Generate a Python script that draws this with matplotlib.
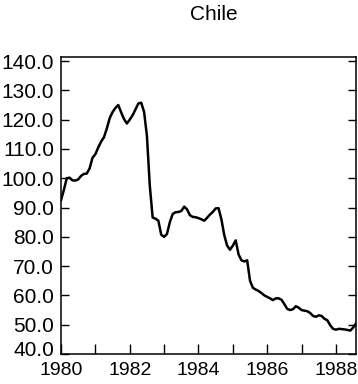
import numpy as np
import matplotlib
matplotlib.use("Agg")
import matplotlib.pyplot as plt
import matplotlib.transforms as mtransforms
from matplotlib.ticker import MultipleLocator, FuncFormatter

start_year = 1980
values = [
    92.5, 96.0, 100.0, 100.2, 99.3, 99.2, 99.6, 100.8, 101.5, 101.6, 103.4, 107.0,
    108.2, 110.5, 112.5, 114.0, 117.0, 120.5, 122.6, 124.0, 125.0, 122.5, 120.2, 118.7,
    120.0, 121.5, 123.5, 125.5, 125.8, 122.7, 114.5, 97.5, 86.6, 86.2, 85.5, 80.7,
    80.0, 81.0, 85.0, 87.8, 88.4, 88.5, 88.8, 90.3, 89.4, 87.4, 86.8, 86.7,
    86.4, 86.0, 85.5, 86.5, 87.6, 88.5, 89.7, 89.8, 86.0, 80.6, 77.0, 75.6,
    77.0, 78.8, 74.0, 72.0, 71.6, 72.0, 65.0, 62.6, 62.0, 61.5, 60.8, 60.0,
    59.5, 59.0, 58.4, 59.0, 59.0, 58.5, 57.0, 55.4, 55.0, 55.3, 56.3, 55.8,
    55.0, 54.8, 54.6, 54.0, 53.0, 52.7, 53.2, 53.0, 52.0, 51.5, 49.8, 48.6,
    48.3, 48.6, 48.5, 48.4, 48.2, 48.0, 49.0, 50.5,
]
x_tick_labels = [1980, 1982, 1984, 1986, 1988]
y_ticks = [40, 50, 60, 70, 80, 90, 100, 110, 120, 130, 140]
title = "Chile"

plt.rcParams['font.family'] = ['Liberation Sans', 'DejaVu Sans']

x = start_year + np.arange(len(values)) / 12.0

fig = plt.figure(figsize=(3.58, 3.84), dpi=100)
ax = fig.add_axes([61/358, 30/384, 295/358, 297/384])
ax.plot(x, values, color='black', lw=1.8, solid_joinstyle='round')

ax.set_xlim(1980, x[-1])
ax.set_ylim(40, 141.4)
ax.set_yticks(y_ticks)
ax.yaxis.set_major_formatter(FuncFormatter(lambda v, p: f"{v:.1f}"))
ax.set_xticks(x_tick_labels)
ax.set_xticks(range(1981, 1989, 2), minor=True)
ax.set_xticklabels([str(v) for v in x_tick_labels])

ax.tick_params(axis='y', direction='in', length=6, width=1, labelsize=15, pad=5,
               right=True, left=True, colors='black')
ax.tick_params(axis='x', which='both', direction='in', length=7, width=1,
               labelsize=14, pad=6, top=False)
for s in ax.spines.values():
    s.set_color('black')
    s.set_linewidth(1.1)

# nudge lowest y label upward so it clears the x axis, as in the original
fig.canvas.draw()
lbl = ax.get_yticklabels()[0]
lbl.set_transform(lbl.get_transform() + mtransforms.ScaledTranslation(0, 5/100, fig.dpi_scale_trans))

fig.text(214/358, 1 - 15/384, title, ha='center', va='center', fontsize=15)

fig.savefig("out.png", dpi=100)
